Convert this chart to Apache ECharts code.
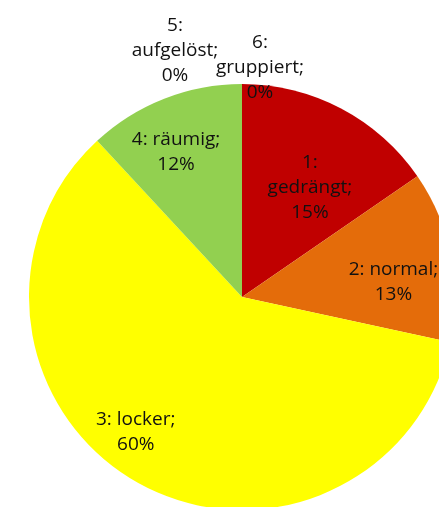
<!DOCTYPE html>
<html>
<head>
<meta charset="utf-8">
<script src="https://cdn.jsdelivr.net/npm/echarts@6/dist/echarts.min.js"></script>
<style>
  html, body { margin: 0; padding: 0; background: #fff; }
  #chart { width: 439px; height: 507px; }
</style>
</head>
<body>
<div id="chart"></div>
<script>
var categories = ['1: gedrängt', '2: normal', '3: locker', '4: räumig', '5: aufgelöst', '6: gruppiert'];
var shares = [15.4, 13.0, 59.7, 11.9, 0, 0];

var colors = ['#C00000', '#E46C0A', '#FFFF00', '#92D050', '#4F81BD', '#8064A2'];
// small nudges of the labels away from the default inside position, like excel places them
var labelNudge = [[17, -12], [44, 6], [-52, 40], [-26, -43], [-67, -137], [18, -120]];

function initChart () {
  var option = {
    animation: false,
    series: [
      {
        type: 'pie',
        center: [242, 297],
        radius: 213,
        startAngle: 90,
        clockwise: true,
        percentPrecision: 0,
        avoidLabelOverlap: false,
        itemStyle: { borderWidth: 0 },
        label: {
          position: 'inside',
          color: '#111',
          fontFamily: 'Open Sans',
          fontSize: 19,
          lineHeight: 25,
          align: 'center',
          formatter: function (p) {
            var name = p.name.length > 10 ? p.name.replace(': ', ':\n') : p.name;
            return name + ';\n' + p.percent + '%';
          }
        },
        labelLine: { show: false },
        labelLayout: function (params) {
          var n = labelNudge[params.dataIndex];
          return { dx: n[0], dy: n[1] };
        },
        emphasis: { disabled: true },
        data: categories.map(function (c, i) {
          return { name: c, value: shares[i], itemStyle: { color: colors[i] } };
        })
      }
    ]
  };

  var myChart = echarts.init(document.getElementById('chart'));
  myChart.setOption(option);
}

initChart();
</script>
</body>
</html>
